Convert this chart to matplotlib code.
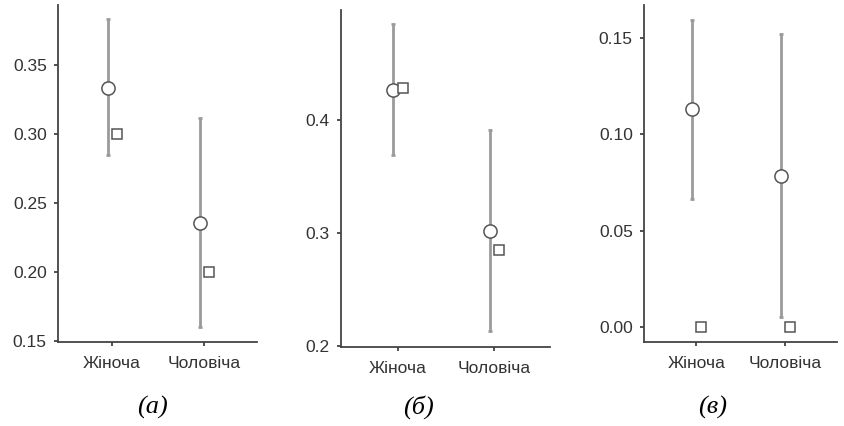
import numpy as np
import matplotlib
matplotlib.use("Agg")
import matplotlib.pyplot as plt

# -------------------------------------------------
# Data
# -------------------------------------------------
categories = ["Жіноча", "Чоловіча"]
captions = ["(a)", "(б)", "(в)"]

# circles: mean with interval (low, high)
means_a = [0.333, 0.2355]
low_a = [0.2848, 0.160]
high_a = [0.3826, 0.3116]
squares_a = [0.300, 0.200]

means_b = [0.4265, 0.302]
low_b = [0.369, 0.213]
high_b = [0.485, 0.391]
squares_b = [0.428, 0.285]

means_c = [0.113, 0.0786]
low_c = [0.0666, 0.005]
high_c = [0.1593, 0.152]
squares_c = [0.0, 0.0]

yticks_a = [0.15, 0.20, 0.25, 0.30, 0.35]
yticks_b = [0.2, 0.3, 0.4]
yticks_c = [0.00, 0.05, 0.10, 0.15]

# -------------------------------------------------
# Layout (figure fractions)
# -------------------------------------------------
panels = [
    (means_a, low_a, high_a, squares_a, yticks_a, "{:.2f}", (0.1493, 0.393),
     [0.0687, 0.197, 0.2358, 0.791]),
    (means_b, low_b, high_b, squares_b, yticks_b, "{:.1f}", (0.199, 0.497),
     [0.404, 0.1854, 0.2477, 0.7911]),
    (means_c, low_c, high_c, squares_c, yticks_c, "{:.2f}", (-0.0078, 0.167),
     [0.763, 0.197, 0.2287, 0.791]),
]
caption_x = [152 / 844, 418 / 844, 713 / 844]

plt.rcParams["font.family"] = ["Liberation Sans", "DejaVu Sans"]

fig = plt.figure(figsize=(8.44, 4.26), dpi=100)
x = np.arange(len(categories))

for (means, low, high, squares, yticks, fmt, ylim, rect), cap, cx in zip(panels, captions, caption_x):
    ax = fig.add_axes(rect)
    means = np.array(means)
    err = [means - np.array(low), np.array(high) - means]
    ax.errorbar(x - 0.045, means, yerr=err, fmt="none", ecolor="#9a9a9a",
                elinewidth=2, capsize=1.5, capthick=2, zorder=2)
    ax.plot(x - 0.045, means, "o", ms=9.5, mfc="white", mec="#555555",
            mew=1.1, zorder=3)
    ax.plot(x + 0.055, squares, "s", ms=7.5, mfc="white", mec="#555555",
            mew=1.1, zorder=3)

    ax.set_xlim(-0.59, 1.58)
    ax.set_ylim(*ylim)
    ax.set_xticks(x)
    ax.set_xticklabels(categories)
    ax.set_yticks(yticks)
    ax.set_yticklabels([fmt.format(v) for v in yticks])
    ax.tick_params(labelsize=12.5, colors="#333333", length=3, width=1.2)
    ax.tick_params(axis="x", pad=7)
    ax.tick_params(axis="y", pad=5)
    for side in ["top", "right"]:
        ax.spines[side].set_visible(False)
    for side in ["left", "bottom"]:
        ax.spines[side].set_color("#444444")
        ax.spines[side].set_linewidth(1.3)

    # caption under each panel
    fig.text(cx, 1 - 407 / 426, cap, ha="center", va="center",
             fontsize=19, style="italic", family="Liberation Serif")

fig.savefig("out.png", dpi=100)
